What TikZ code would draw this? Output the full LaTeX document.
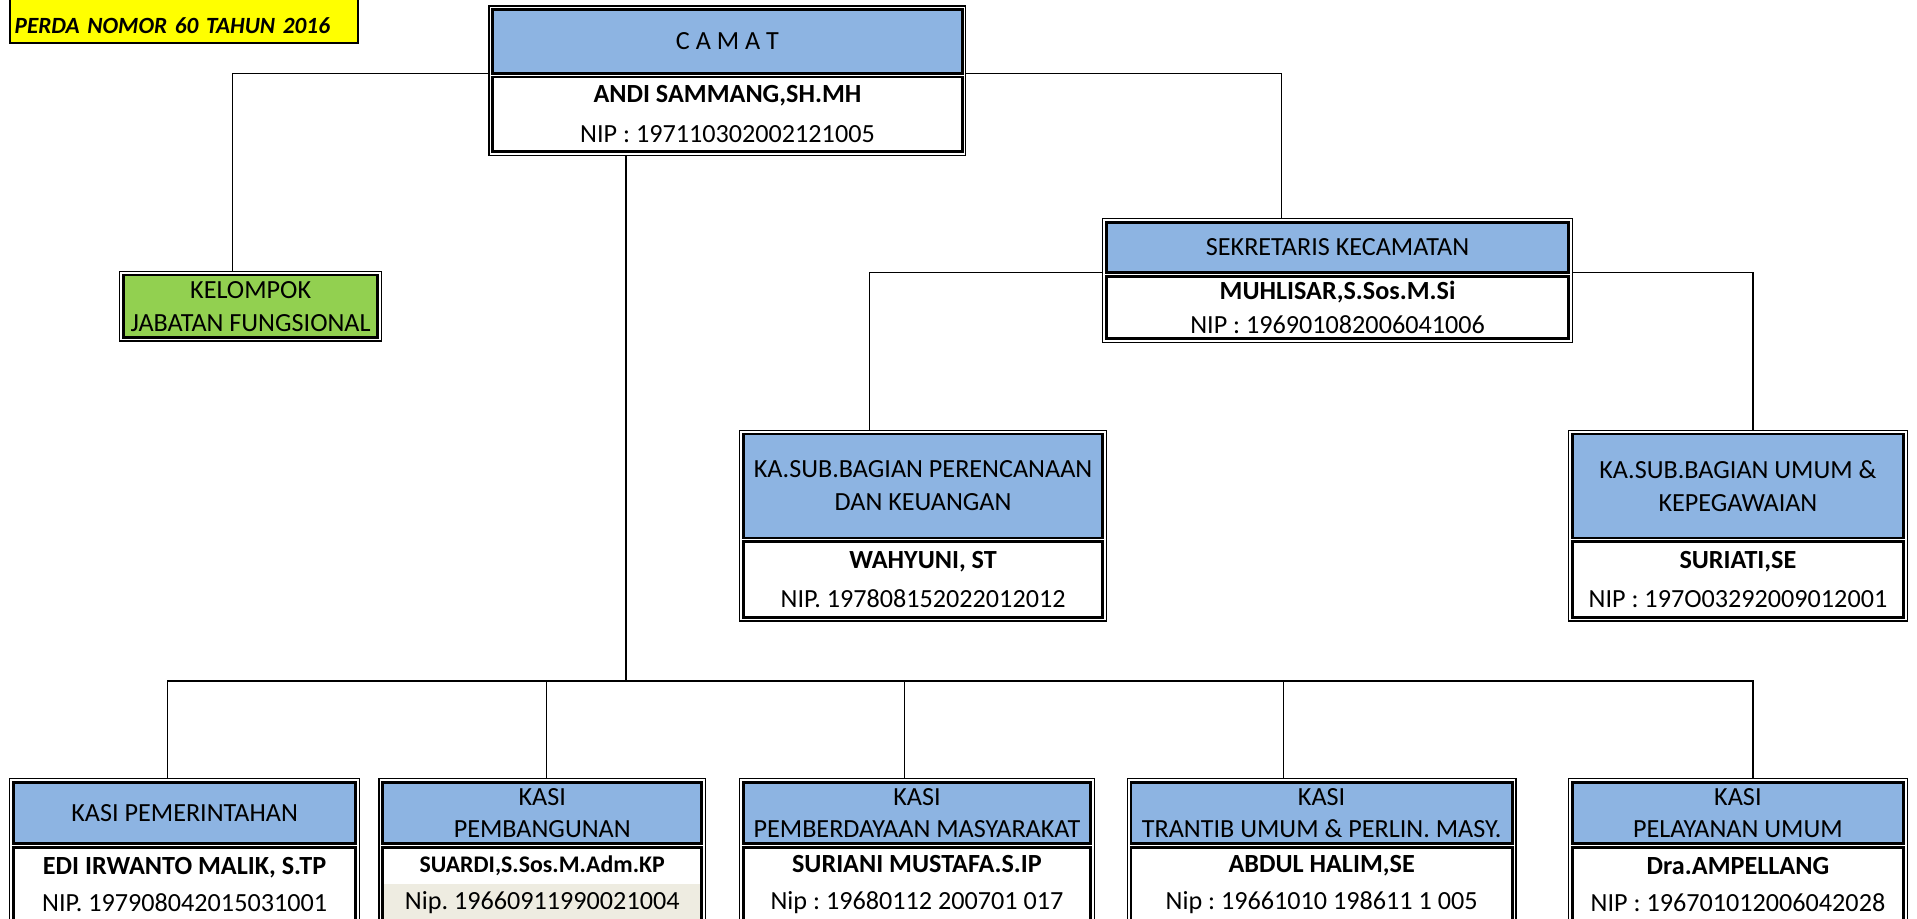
\documentclass[tikz,border=0pt]{standalone}
\usepackage{fontspec}
\setmainfont{Carlito}
\frenchspacing
\definecolor{hdrblue}{HTML}{8DB4E2}
\definecolor{fgreen}{HTML}{92D050}
\definecolor{nipbeige}{HTML}{EEECE1}
\definecolor{perdayellow}{HTML}{FFFF00}
\tikzset{
  outerframe/.style={draw, line width=1pt, anchor=north west, inner sep=0pt, outer sep=0pt},
  headbox/.style={draw, line width=2.2pt, fill=hdrblue, anchor=north west, inner sep=0pt, outer sep=0pt,
    align=center, font=\fontsize{21.4}{27}\selectfont},
  bodybox/.style={draw, line width=2.2pt, fill=white, anchor=north west, inner sep=0pt, outer sep=0pt,
    align=center, font=\fontsize{21.4}{30}\selectfont},
  greenbox/.style={draw, line width=2.2pt, fill=fgreen, anchor=north west, inner sep=0pt, outer sep=0pt,
    align=center, font=\fontsize{21.4}{27}\selectfont},
  yellowbox/.style={draw, line width=1.5pt, fill=perdayellow, anchor=north west, inner ysep=0pt, inner xsep=4pt,
    outer sep=0pt, align=left, font=\fontsize{19}{22}\selectfont\bfseries\itshape},
  conn/.style={draw, line width=1.2pt, black},
}
% #1 name, #2 x1, #3 y1, #4 x2, #5 y2, #6 split y, #7 header text, #8 body text, #9 body options
\newcommand\orgbox[9]{%
  \node[outerframe, minimum width={(#4-#2)*1pt}, minimum height={(#5-#3)*1pt}] (#1) at (#2,#3) {};
  \node[headbox, minimum width={(#4-#2-6)*1pt}, minimum height={(#6-#3-3)*1pt}] (#1-h) at (#2+3,#3+3) {#7};
  \node[bodybox, minimum width={(#4-#2-6)*1pt}, minimum height={(#5-#6-6)*1pt}, #9] (#1-b) at (#2+3,#6+3) {#8};
}
\begin{document}
\begin{tikzpicture}[x=1pt,y=-1pt]
\useasboundingbox (0,0) rectangle (1568,751);

% title tag
\node[yellowbox, minimum width=285pt, minimum height=43pt, text width=277pt, text height=27pt, text depth=0pt]
  (perda) at (8,-8) {PERDA NOMOR 60 TAHUN 2016};

% CAMAT
\orgbox{camat}{400}{5}{790}{127}{60}{C A M A T}
  {\textbf{ANDI SAMMANG,SH.MH}\\NIP : 197110302002121005}{font=\fontsize{21.4}{33}\selectfont}

% Kelompok jabatan fungsional
\node[outerframe, minimum width=214pt, minimum height=57pt] (kel) at (98,222) {};
\node[greenbox, minimum width=208pt, minimum height=51pt] (kel-in) at (101,225) {KELOMPOK\\JABATAN FUNGSIONAL};

% Sekretaris
\orgbox{sek}{902}{179}{1286}{280}{223}{SEKRETARIS KECAMATAN}
  {\textbf{MUHLISAR,S.Sos.M.Si}\\NIP : 196901082006041006}{font=\fontsize{21.4}{28}\selectfont}

% Sub bagian
\orgbox{ks1}{605}{352}{905}{508}{440}{KA.SUB.BAGIAN PERENCANAAN\\DAN KEUANGAN}
  {\textbf{WAHYUNI, ST}\\NIP. 197808152022012012}{font=\fontsize{21.4}{32}\selectfont}
\orgbox{ks2}{1283}{352}{1560}{508}{440}{KA.SUB.BAGIAN UMUM \&\\KEPEGAWAIAN}
  {\textbf{SURIATI,SE}\\NIP : 197O03292009012001}{font=\fontsize{21.4}{32}\selectfont}

% Kasi
\orgbox{k1}{8}{637}{294}{757}{690}{KASI PEMERINTAHAN}
  {\textbf{EDI IRWANTO MALIK, S.TP}\\NIP. 197908042015031001}{}
\orgbox{k2}{310}{637}{577}{757}{690}{KASI\\[-1pt]PEMBANGUNAN}
  {{\fontsize{19.5}{30}\selectfont\textbf{SUARDI,S.Sos.M.Adm.KP}}\\Nip. 19660911990021004}
  {path picture={\fill[nipbeige] (path picture bounding box.south west) rectangle ([yshift=31pt]path picture bounding box.south east);}}
\orgbox{k3}{605}{637}{895}{757}{690}{KASI\\[-1pt]PEMBERDAYAAN MASYARAKAT}
  {\textbf{SURIANI MUSTAFA.S.IP}\\Nip : 19680112 200701 017}{}
\orgbox{k4}{922}{637}{1240}{757}{690}{KASI\\[-1pt]TRANTIB UMUM \& PERLIN. MASY.}
  {\textbf{ABDUL HALIM,SE}\\Nip : 19661010 198611 1 005}{}
\orgbox{k5}{1283}{637}{1560}{757}{690}{KASI\\[-1pt]PELAYANAN UMUM}
  {\textbf{Dra.AMPELLANG}\\NIP : 196701012006042028}{}

% connectors
\draw[conn] (camat.west |- camat-h.south) -| ([xshift=-15pt]kel.north);
\draw[conn] (camat.east |- camat-h.south) -| ([xshift=-46pt]sek.north);
\coordinate (bus) at (512,557);
\draw[conn] ([xshift=-83pt]camat.south) -- (bus);
\draw[conn] ([xshift=-14pt]k1.north) |- (bus);
\draw[conn] ([xshift=3.5pt]k2.north) |- (bus);
\draw[conn] ([xshift=-10pt]k3.north) |- (bus);
\draw[conn] ([xshift=-31pt]k4.north) |- (bus);
\draw[conn] ([xshift=12.5pt]k5.north) |- (bus);
\draw[conn] (sek.west |- sek-h.south) -| ([xshift=-44pt]ks1.north);
\draw[conn] (sek.east |- sek-h.south) -| ([xshift=12.5pt]ks2.north);
\end{tikzpicture}
\end{document}
